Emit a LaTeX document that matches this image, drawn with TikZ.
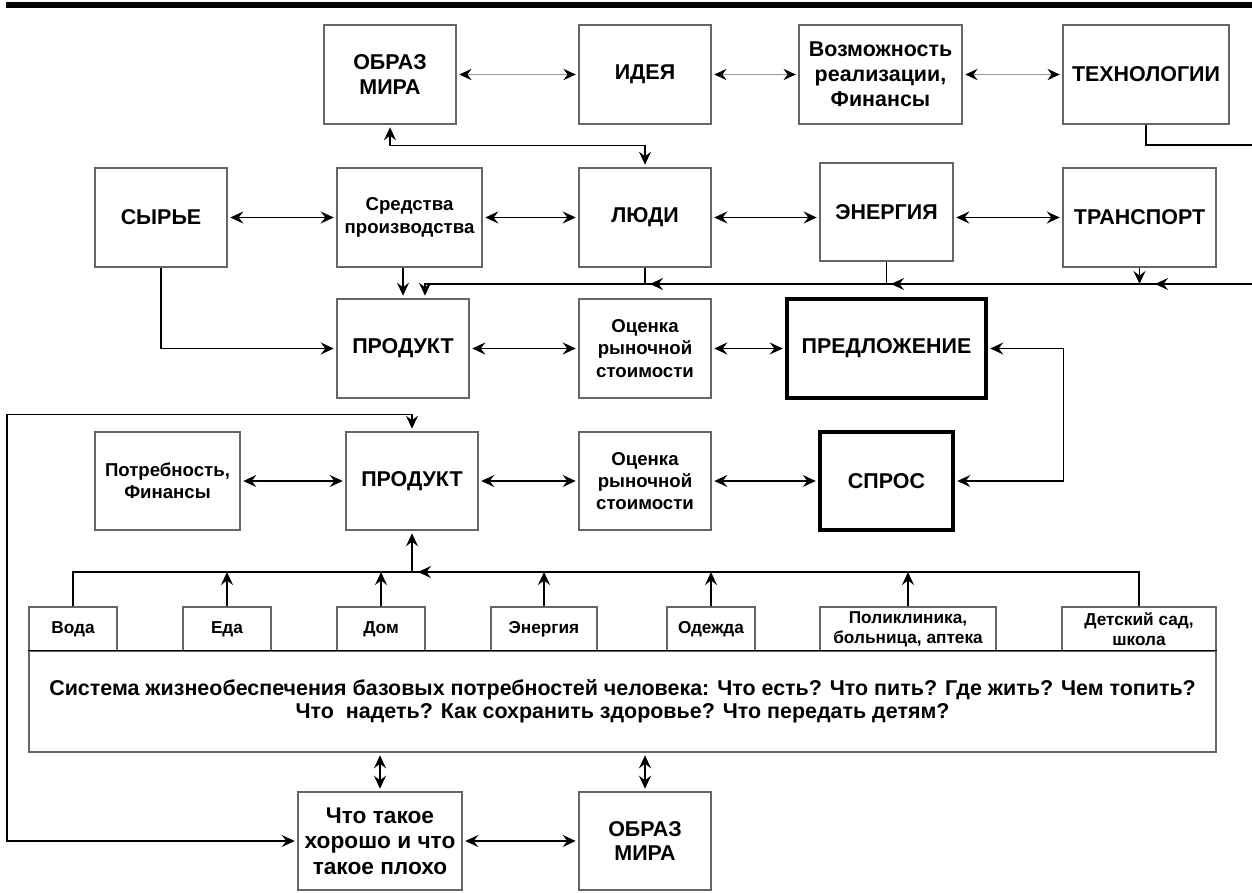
\documentclass[tikz,border=0pt]{standalone}
\usepackage{fontspec}
\setmainfont{Liberation Sans}
\usetikzlibrary{arrows.meta}

\begin{document}
\begin{tikzpicture}[
    >={Stealth[length=7.4pt, width=6.8pt, inset=2.6pt]},
    box/.style={rectangle, draw=black!60, line width=0.7pt, minimum width=2.64cm, minimum height=1.98cm, align=center, inner sep=1pt, font=\bfseries\fontsize{12.2}{14.2}\selectfont},
    midbox/.style={box, font=\bfseries\fontsize{10.6}{12.7}\selectfont},
    smallbox/.style={box, minimum width=1.76cm, minimum height=0.88cm, font=\bfseries\fontsize{9.8}{11.6}\selectfont},
    keybox/.style={box, draw=black, line width=1.8pt},
    link/.style={line width=1pt},
    arrow/.style={link, <->, shorten <=1.5pt, shorten >=1.5pt},
    faint/.style={arrow, draw=black!40, line width=0.5pt, {Stealth[length=7pt, width=6.4pt, inset=2.4pt, color=black]}-{Stealth[length=7pt, width=6.4pt, inset=2.4pt, color=black]}},
    onearrow/.style={link, ->}
]
    \useasboundingbox (0,0) rectangle (25.04,-17.84);
    \draw[line width=3.4pt] (0.12,-0.1) -- (25.04,-0.1);

    % Top row
    \node[box] (obrazA) at (7.8,-1.49) {ОБРАЗ\\МИРА};
    \node[box] (idea) at (12.9,-1.49) {ИДЕЯ};
    \node[box, minimum width=3.26cm] (chance) at (17.61,-1.49) {Возможность\\реализации,\\Финансы};
    \node[box, minimum width=3.32cm] (tech) at (22.92,-1.49) {ТЕХНОЛОГИИ};

    % Resources row
    \node[box] (raw) at (3.22,-4.35) {СЫРЬЕ};
    \node[midbox, minimum width=2.9cm] (means) at (8.19,-4.35) {Средства\\производства};
    \node[box] (people) at (12.9,-4.35) {ЛЮДИ};
    \node[box, minimum width=2.66cm, minimum height=1.96cm] (energy) at (17.73,-4.24) {ЭНЕРГИЯ};
    \node[box, minimum width=3.06cm] (transport) at (22.79,-4.35) {ТРАНСПОРТ};

    % Supply row
    \node[box] (prodA) at (8.06,-6.97) {ПРОДУКТ};
    \node[midbox] (priceA) at (12.9,-6.97) {Оценка\\рыночной\\стоимости};
    \node[keybox, minimum width=3.98cm] (offer) at (17.73,-6.97) {ПРЕДЛОЖЕНИЕ};

    % Demand row
    \node[midbox, minimum width=2.9cm, minimum height=1.96cm] (need) at (3.35,-9.62) {Потребность,\\Финансы};
    \node[box, minimum height=1.96cm] (prodB) at (8.24,-9.62) {ПРОДУКТ};
    \node[midbox, minimum height=1.96cm] (priceB) at (12.9,-9.62) {Оценка\\рыночной\\стоимости};
    \node[keybox, minimum width=2.66cm, minimum height=1.96cm] (demand) at (17.73,-9.62) {СПРОС};

    % Basic needs
    \node[smallbox] (water) at (1.46,-12.58) {Вода};
    \node[smallbox] (food) at (4.54,-12.58) {Еда};
    \node[smallbox] (home) at (7.62,-12.58) {Дом};
    \node[smallbox, minimum width=2.12cm] (power) at (10.88,-12.58) {Энергия};
    \node[smallbox] (clothes) at (14.22,-12.58) {Одежда};
    \node[smallbox, minimum width=3.52cm] (health) at (18.16,-12.58) {Поликлиника,\\больница, аптека};
    \node[smallbox, minimum width=3.08cm] (school) at (22.78,-12.58) {Детский сад,\\школа};
    \node[midbox, minimum width=23.74cm, minimum height=2.02cm, font=\bfseries\fontsize{12.2}{13.2}\selectfont] (system) at (12.45,-14.03)
        {Система жизнеобеспечения базовых потребностей человека: Что есть? Что пить? Где жить? Чем топить?\\Что \ надеть? Как сохранить здоровье? Что передать детям?};

    % Values
    \node[box, minimum width=3.28cm, minimum height=1.96cm, font=\bfseries\fontsize{12.9}{14.5}\selectfont] (good) at (7.6,-16.82) {Что такое\\хорошо и что\\такое плохо};
    \node[box, minimum height=1.96cm] (obrazB) at (12.9,-16.82) {ОБРАЗ\\МИРА};

    \coordinate (edgeA) at (25.04,-2.9);
    \coordinate (edgeB) at (25.04,-5.68);
    \coordinate (needsbus) at (1.46,-11.44);
    \coordinate (loop) at (0.14,-16.82);

    % Arrows
    \draw[faint] (obrazA) -- (idea);
    \draw[faint] (idea) -- (chance);
    \draw[faint] (chance) -- (tech);
    \draw[arrow] (obrazA.south) -- ++(0,-0.42) -| (people.north);
    \draw[link] (tech.south) |- (edgeA);

    \draw[arrow] (raw) -- (means);
    \draw[arrow] (means) -- (people);
    \draw[arrow] (people) -- (people -| energy.west);
    \draw[arrow] (energy.east |- transport) -- (transport);

    \draw[onearrow, shorten >=1.5pt] (edgeB) -| ([xshift=0.44cm]prodA.north);
    \draw[onearrow] (edgeB) -- ++(-1.94,0);
    \draw[onearrow] (edgeB) -- ++(-7.22,0);
    \draw[onearrow] (edgeB) -- ++(-12.04,0);
    \draw[onearrow] (transport.south) -- (transport.south |- edgeB);
    \draw[link] (energy.south) -- (energy.south |- edgeB);
    \draw[link] (people.south) -- (people.south |- edgeB);
    \draw[onearrow, shorten >=1.5pt] (means.south -| prodA.north) -- (prodA.north);

    \draw[onearrow, shorten >=1.5pt] (raw.south) |- (prodA.west);
    \draw[arrow] (prodA) -- (priceA);
    \draw[arrow] (priceA) -- (offer);
    \draw[arrow] (offer.east) -| ([xshift=2.18cm]demand.east) -- (demand.east);

    \draw[arrow] (need) -- (prodB);
    \draw[arrow] (prodB) -- (priceB);
    \draw[arrow] (priceB) -- (demand);
    \draw[arrow] (prodB.north) -- ++(0,0.34) -| (loop) -- (good.west);

    \draw[link] (water.north) -- (needsbus) -| (school.north);
    \draw[onearrow, shorten >=1.5pt] (prodB.south |- needsbus) -- (prodB.south);
    \draw[onearrow] (school.north |- needsbus) -- ++(-14.42,0);
    \foreach \n in {food,home,power,clothes,health}
        \draw[onearrow] (\n.north) -- (\n.north |- needsbus);

    \draw[link] (system.north west) -- (system.north east);
    \draw[arrow] (system.south -| good.north) -- (good.north);
    \draw[arrow] (system.south -| obrazB.north) -- (obrazB.north);
    \draw[arrow] (good) -- (obrazB);
\end{tikzpicture}
\end{document}
